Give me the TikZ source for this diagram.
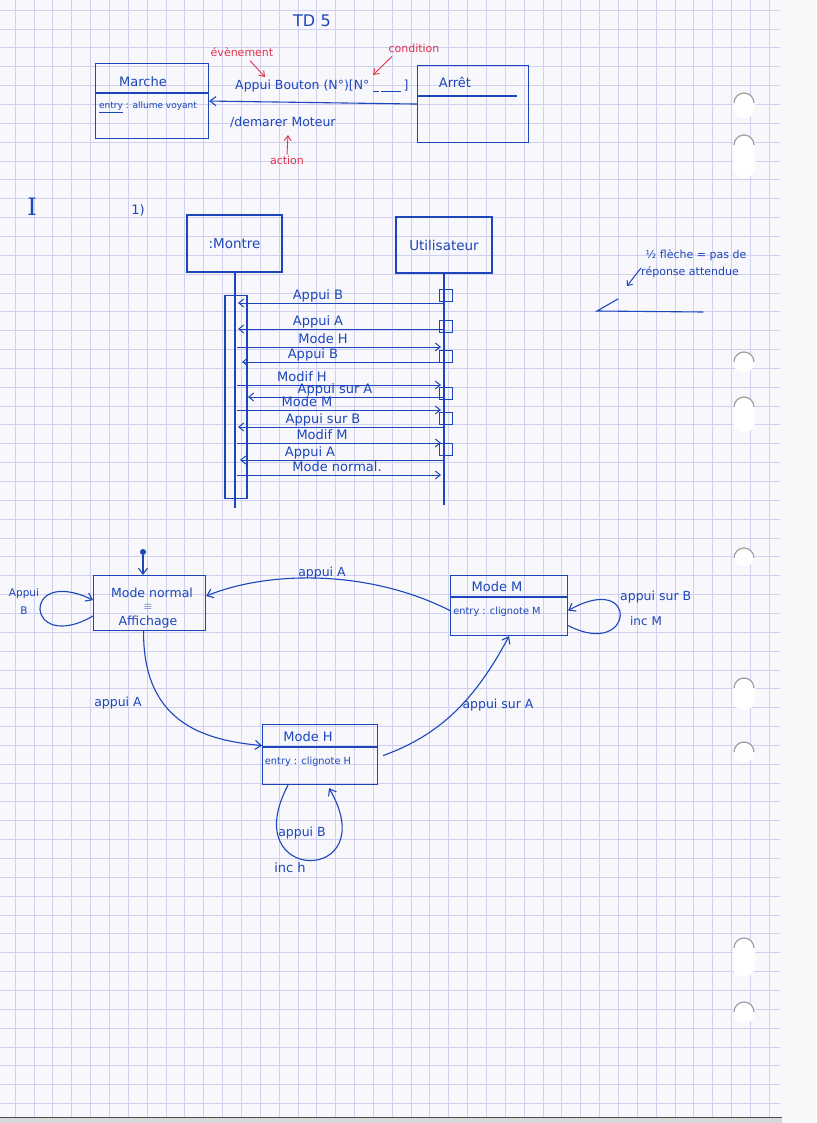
\documentclass[tikz,border=0pt]{standalone}
\usepackage{fontspec}
\setsansfont{DejaVu Sans}
\newfontfamily\romanI{DejaVu Serif}
\usetikzlibrary{arrows.meta,calc}
\definecolor{ink}{RGB}{28,70,185}
\definecolor{redink}{RGB}{225,50,75}
\definecolor{paper}{RGB}{247,247,252}
\definecolor{gridc}{RGB}{208,208,241}
\begin{document}
\begin{tikzpicture}[x=1pt,y=1pt,
  box/.style={draw=ink, line width=1.1pt, rectangle, inner sep=0pt},
  hw/.style={text=ink, font=\sffamily\fontsize{12.5}{13}\selectfont, inner sep=1pt},
  hwt/.style={text=ink, font=\sffamily\fontsize{13}{14}\selectfont, inner sep=1pt},
  hws/.style={text=ink, font=\sffamily\fontsize{9.8}{11}\selectfont, inner sep=1pt},
  rd/.style={text=redink, font=\sffamily\fontsize{11}{12}\selectfont, inner sep=1pt},
  ln/.style={draw=ink, line width=1.1pt},
  msg/.style={draw=ink, line width=1pt, -{Straight Barb[length=5pt,width=8pt]}},
  trans/.style={draw=ink, line width=1.1pt, -{Straight Barb[length=6pt,width=9pt]}},
  redarrow/.style={draw=redink, line width=0.9pt, -{Straight Barb[length=5pt,width=7pt]}},
  hole/.style={fill=white, rounded corners=10pt},
]
\useasboundingbox (0,0) rectangle (816,-1123);
% paper
\fill[gray!6] (0,0) rectangle (816,-1123);
\fill[paper] (0,0) rectangle (782,-1117);
\foreach \i in {0,...,40} {\draw[gridc, line width=0.5pt] ({15+\i*18.85},0) -- ({15+\i*18.85},-1117);}
\foreach \j in {0,...,58} {\draw[gridc, line width=0.5pt] (0,{-10-\j*18.85}) -- (780,{-10-\j*18.85});}
\fill[gray!30] (0,-1117) rectangle (782,-1123);
\draw[black!70, line width=0.8pt] (0,-1117) -- (782,-1117);
% binder holes
\foreach \a/\b in {93/118, 135/178, 352/372, 397/432, 548/566, 678/710, 742/762, 938/977, 1002/1023} {
  \fill[hole] (733,-\a) rectangle (755,-\b);
  \draw[gray!75, line width=1.2pt] (734,{-\a-10}) arc (180:0:10);
}

% ---------- TD 5 header ----------
\node[hw, font=\sffamily\fontsize{16}{16}\selectfont] (td) at (312,-21) {TD\,\,5};

\node[box, minimum width=113pt, minimum height=75pt, anchor=north west] (marche) at (95,-63) {};
\draw[ln] (95,-93) -- (208,-93);
\node[hwt] (marchet) at (143,-82) {Marche};
\node[hws, font=\sffamily\fontsize{9}{10}\selectfont] (marchee) at (148,-107) {\underline{entry} : allume voyant};

\node[box, minimum width=111pt, minimum height=77pt, anchor=north west] (arret) at (417,-65) {};
\draw[ln] (417,-96) -- (517,-96);
\node[hwt] (arrett) at (455,-82) {Arrêt};

\draw[trans] (arret.west) -- (marche.east);
\node[hw, anchor=west] (evt) at (234,-86) {Appui Bouton (N°)[N° \underline{\hspace{6pt}}\,\underline{\hspace{20pt}}\,]};
\node[hw, anchor=west] (act) at (229,-122) {/demarer Moteur};

\node[rd] (revt) at (242,-52) {évènement};
\node[rd] (rcond) at (414,-48) {condition};
\node[rd] (ract) at (287,-160) {action};
\draw[redarrow] (revt.south) ++(8,-3) coordinate (re1) (re1) -- (265,-77);
\draw[redarrow] (rcond.south) ++(-22,-3) coordinate (rc1) (rc1) -- (373,-75);
\draw[redarrow] (ract.north) -- (288,-135);

% ---------- Part I ----------
\node[text=ink, font=\romanI\fontsize{24}{24}\selectfont] (partI) at (32,-207) {I};
\node[hw, font=\sffamily\fontsize{13}{13}\selectfont] (q1) at (138,-210) {1)};

\node[box, hw, font=\sffamily\fontsize{13.5}{14}\selectfont, minimum width=95pt, minimum height=57pt] (montre) at (234.5,-243.5) {:Montre};
\node[box, hw, font=\sffamily\fontsize{13.5}{14}\selectfont, minimum width=96pt, minimum height=56pt] (user) at (444,-245) {Utilisateur};
\coordinate (mEnd) at (235,-508);
\coordinate (uEnd) at (444,-505);
\draw[ln] (montre.south -| mEnd) -- (mEnd);
\draw[ln] (user.south) -- (uEnd);
\node[box, minimum width=22pt, minimum height=203pt, anchor=north] (actbar) at (236,-295) {};

\foreach \n/\a in {1/289, 2/320, 4/350, 6/387, 8/412, 10/443} {
  \node[box, line width=1pt, minimum width=13pt, minimum height=12pt, anchor=north west] (ua\n) at (439,-\a) {};
}
\foreach \n/\y/\lx/\ex/\t in {1/303/318/238/Appui B, 2/329/318/238/Appui A, 4/362/313/242/Appui B, 6/397/335/248/Appui sur A, 8/427/323/238/Appui sur B, 10/460/310/240/Appui A} {
  \coordinate (u\n) at (444,-\y);
  \coordinate (m\n) at (\ex,-\y);
  \draw[msg] (u\n) -- (m\n);
  \node[hwt, anchor=base] (l\n) at (\lx,{-\y+4}) {\t};
}
\foreach \n/\y/\lx/\t in {3/347/323/Mode H, 5/385/302/Modif H, 7/410/307/Mode M, 9/443/322/Modif M, 11/475/337/Mode normal.} {
  \coordinate (m\n) at (237,-\y);
  \coordinate (u\n) at (441,-\y);
  \draw[msg] (m\n) -- (u\n);
  \node[hwt, anchor=base] (l\n) at (\lx,{-\y+4}) {\t};
}

% note on half arrow
\node[hw, font=\sffamily\fontsize{11}{12}\selectfont] (note1) at (696,-255) {½ flèche = pas de};
\node[hw, font=\sffamily\fontsize{11}{12}\selectfont] (note2) at (690,-272) {réponse attendue};
\coordinate (na1) at (641,-268);
\coordinate (na2) at (627,-286);
\draw[ink, line width=1pt, -{Straight Barb[length=4pt,width=7pt]}] (na1) -- (na2);
\coordinate (h1) at (703,-312);
\coordinate (h2) at (597,-311);
\coordinate (h3) at (618,-299);
\draw[ln, line cap=round] (h1) -- (h2) -- (h3);

% ---------- State diagram ----------
\node[circle, fill=ink, minimum size=6pt, inner sep=0pt] (init) at (143,-552) {};
\node[box, minimum width=112pt, minimum height=55pt, anchor=north west] (normal) at (93,-575) {};
\draw[trans] (init) -- (init |- normal.north);
\node[hw] (n1) at (152,-593) {Mode normal};
\node[text=ink, font=\fontsize{11}{11}\selectfont] (n2) at (148,-607) {$\equiv$};
\node[hw] (n3) at (148,-622) {Affichage};
\draw[trans] ([yshift=-13pt]normal.west) .. controls (25,-655) and (20,-565) .. ([yshift=3pt]normal.west);
\node[hw, align=center, font=\sffamily\fontsize{10.5}{18}\selectfont] (lnb) at (24,-602) {Appui\\B};

\node[box, minimum width=117pt, minimum height=60pt, anchor=north west] (modem) at (450,-575) {};
\draw[ln] (450,-597) -- (567,-597);
\node[hwt] (m1t) at (497,-587) {Mode M};
\node[hws] (m2t) at (497,-612) {entry : clignote M};
\draw[trans] ([yshift=-20pt]modem.east) .. controls (635,-660) and (640,-570) .. ([yshift=-5pt]modem.east);
\node[hw, anchor=west] (lmb) at (619,-597) {appui sur B};
\node[hw, font=\sffamily\fontsize{12}{13}\selectfont] (lmb2) at (646,-621) {inc M};

\node[box, minimum width=115pt, minimum height=60pt, anchor=north west] (modeh) at (262,-724) {};
\draw[ln] (262,-747) -- (377,-747);
\node[hwt] (h1t) at (308,-737) {Mode H};
\node[hws] (h2t) at (308,-762) {entry : clignote H};

\draw[trans] ([yshift=-5pt]modem.west) .. controls (370,-570) and (270,-570) .. ([yshift=7pt]normal.east);
\node[hw] (lna) at (322,-573) {appui A};

\draw[trans] ([xshift=-6pt]normal.south) .. controls (143,-720) and (200,-740) .. ([yshift=9pt]modeh.west);
\node[hw] (lha) at (118,-703) {appui A};

\draw[trans] ([xshift=5pt, yshift=-1pt]modeh.east) .. controls (440,-735) and (475,-700) .. (modem.south);
\node[hw] (lhm) at (498,-705) {appui sur A};

\draw[trans] ([xshift=-32pt]modeh.south) .. controls (235,-885) and (385,-885) .. ([xshift=9pt, yshift=-3pt]modeh.south);
\node[hw] (lhb) at (302,-833) {appui B};
\node[hwt] (lhb2) at (290,-868) {inc h};
\end{tikzpicture}
\end{document}
